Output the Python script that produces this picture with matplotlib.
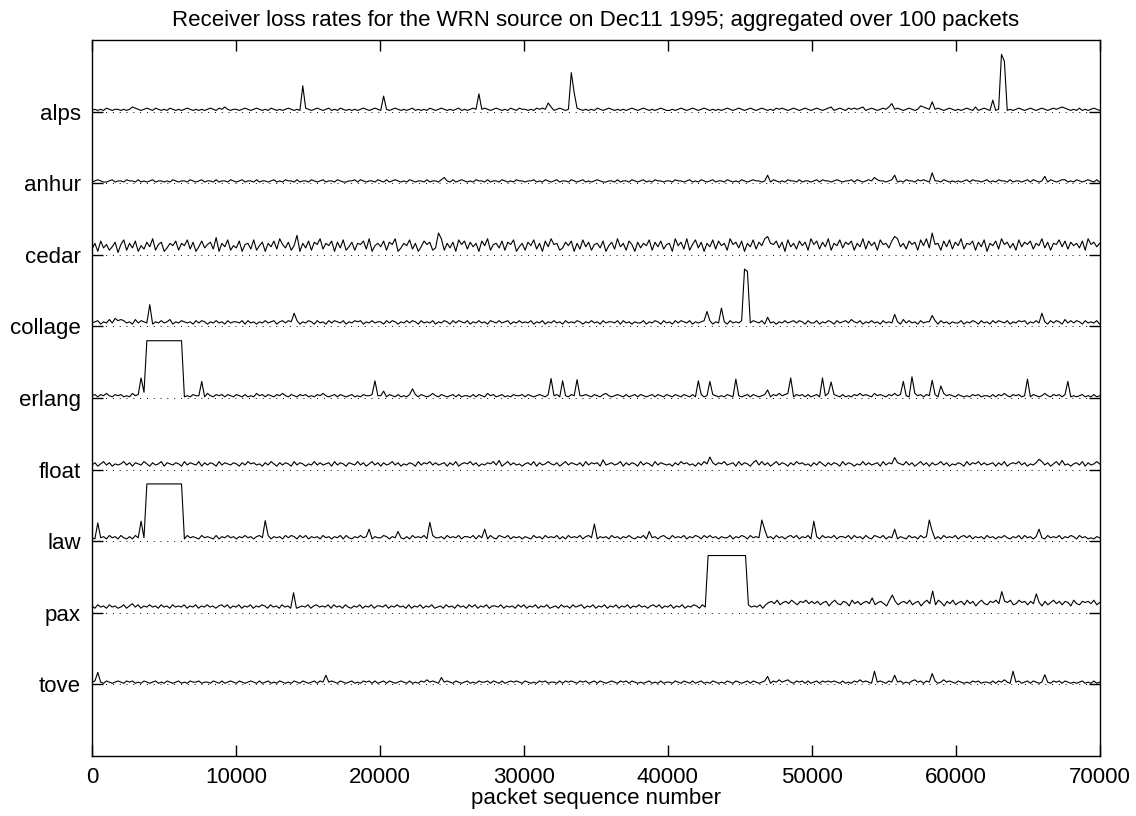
import numpy as np
import matplotlib.pyplot as plt

# receivers, top to bottom
hosts = ["alps", "anhur", "cedar", "collage", "erlang", "float", "law", "pax", "tove"]

# background loss per 200-packet bin, one hex char each (value * 2 = loss %)
alps_bg = ("12121321221212432123213212132121232121212321324212"
           "21232123212132121232121232123212312132121212321232"
           "13212321212312121321232121231212321232123212132132"
           "21213232141232121232121213212321212123212321212321"
           "12123212321232121212321232123212321213232123212321"
           "23212341232132323412321232412321232125432123212321"
           "21232141232121232121232123212321232343212131212321")
anhur_bg = ("12321123122132213121231221213212213212312213122132"
            "12312213122123121322131221321231221321122313212213"
            "21312321213212213122132213123212132213122132121322"
            "12231213212312213212312123211221312213212312132212"
            "21322123121321231221321213212322123132121322131221"
            "23132212321223132123213221233121322132321322132121"
            "21231322123121322131221231321221321233121321232131")
cedar_bg = ("5a3c6947b29d4a6c385b7e49b36a8c4a8d5b37c69b5e3a7d48"
            "6c39a5d48b3a7c5e96b48d3a6c4b9e5a8c3b6d47b4a9c5e38a"
            "7c4b9e36a8d5a37c9b468e4a6b3d9c5b7a3c8e49a6c4b9d37a"
            "4b8d5a3c7e9a46b8c3a5d7b49a6c38b5e7a4c93b6a8d4b7c59"
            "a3c8b5e49d6b3a7d5c8a4e9b6c3a7d5b8e4a9c6b3d7a5c8b4e"
            "9c5b7e4a8d6b9c4a7e5c8b4d9a6c3e7a5c9b4d8e6b9a4c7d5b"
            "8e5a9c4b7d3a8c5e9b6a4d7b9c5a8e6b4a9d7c5b8a6c4e9b7a")
collage_bg = ("34524363754534263543524353462435434253542435342534"
              "43525342435345245354352435425342535435243545243534"
              "42535424353542534352435425354352435342543534524353"
              "43524352435342534354243534253443525342433524354253"
              "42535435243453524354253435243543525342435345354253"
              "35243542534536435243534253435426353425344352534243"
              "35243542534253543524354524353442535426353542534352")
erlang_bg = ("23132421323121423253213132421323121322314213231321"
             "32131214231321324213213231213242123132123121322312"
             "24132131213231321242132123131221313214231231213223"
             "13212321312313213212232132134212321312313212313213"
             "21321321312312132121321321231321232132423421323131"
             "23132423213121324232142321324231213423132131242321"
             "32121323122131324213231231321242132313212123121312")
float_bg = ("46357463545746365475364573654653746547364653746546"
            "53647564536475364653746535474645637465365474635746"
            "36457463546537465746456364735657463546574635746453"
            "56473645754635746546374656374564573646537465374654"
            "53647564536475364657456374653684746357465364756453"
            "64753646537465354746456374658654746357463645746354"
            "65374657464563647356574635465746357484535647364575")
law_bg = ("32534253425324253435253434252434253432534325243534"
          "24353424533524342535425352434253424352532435345243"
          "35424353242534352453342534352443525342532543524342"
          "43253425343524253435245352434253424353243525342453"
          "25343524354253534243352435425343253425342453524352"
          "34253435244352534253254352434243253425343524253435"
          "24535243425342435324352534245325343524354253423243")
pax_bg = ("64756475645746857465756475647565746574657564675746"
          "57465746576475647564745657467565747564754657465746"
          "65746575647465746574564756475647574657466574656475"
          "74657465745647564756746574657465746574657564675746"
          "574657465764756475647456574675657479a8b79a8b97a9b8a"
          "8a79a69b87a96b8a79a8b79a86b9a79a8b79a69b8a7b96a8b7"
          "9a7b8a69b87a9b86a9b78b9a7a8b96a79b8a7a96b87a9a8b79")
tove_bg = ("23121321232132312132123121321231213223122132131232"
           "13212321312312132121321321231321232132123121323131"
           "23132123213121324232132321321231213223132131232321"
           "32121323122131323213231231321232132313212123121312"
           "21321321312312132121321321231321232132423421323131"
           "23132323213121324232142321324231213423132131242321"
           "32121323122131324213231231321242132313212123121312")
backgrounds = [alps_bg, anhur_bg, cedar_bg, collage_bg, erlang_bg,
               float_bg, law_bg, pax_bg, tove_bg]

# isolated loss spikes: (packet, loss %)
alps_spikes = [(14700, 45), (20200, 27), (26800, 31), (31700, 15), (33300, 68),
               (33500, 33), (55600, 14), (58400, 17), (62600, 20), (63100, 100),
               (63300, 88)]
anhur_spikes = [(24400, 10), (47000, 14), (54400, 10), (55800, 14), (58400, 18),
                (66200, 12)]
cedar_spikes = [(8700, 30), (14300, 34), (24000, 38), (40600, 28), (47000, 32),
                (55800, 32), (58400, 38)]
collage_spikes = [(2000, 12), (4000, 38), (14000, 23), (42800, 26), (43800, 32),
                  (45300, 100), (45500, 96), (47000, 16), (55700, 21),
                  (58400, 19), (65900, 23)]
erlang_spikes = [(3400, 35), (7600, 29), (19600, 30), (20300, 12), (22200, 16),
                 (31800, 34), (32600, 30), (33700, 32), (42100, 30), (42900, 29),
                 (44800, 33), (47000, 14), (48600, 35), (50800, 35), (51400, 28),
                 (56300, 29), (56900, 37), (58300, 31), (58900, 21), (65000, 33),
                 (67800, 29)]
float_spikes = [(28300, 16), (35600, 17), (42900, 22), (55700, 21), (65800, 18)]
law_spikes = [(500, 32), (3400, 35), (12000, 36), (19200, 21), (21200, 17),
              (23500, 33), (27300, 21), (35000, 30), (38800, 17), (46500, 37),
              (46700, 20), (50100, 35), (55700, 21), (58100, 37), (58400, 18),
              (65700, 21)]
pax_spikes = [(14000, 35), (54200, 26), (55700, 31), (58300, 38), (63300, 37),
              (65700, 33)]
tove_spikes = [(500, 21), (16200, 16), (24300, 12), (47000, 14), (54400, 23),
               (55800, 16), (58400, 19), (64000, 23), (66200, 17)]
spikes = [alps_spikes, anhur_spikes, cedar_spikes, collage_spikes, erlang_spikes,
          float_spikes, law_spikes, pax_spikes, tove_spikes]

# total-loss outages: host -> (first packet, last packet, loss %)
outages = {"erlang": (3900, 6300, 100), "law": (3900, 6300, 100),
           "pax": (42800, 45400, 100)}

title = "Receiver loss rates for the WRN source on Dec11 1995; aggregated over 100 packets"

fig = plt.figure(figsize=(11.36, 8.16), dpi=100)
plt.rcParams["font.family"] = ["Liberation Sans", "DejaVu Sans"]
ax = fig.add_axes([0.081, 0.0735, 0.887, 0.8775])

n_hosts = len(hosts)
for i, host in enumerate(hosts):
    offset = n_hosts - i
    loss = np.array([int(c, 16) * 2.0 for c in backgrounds[i]])
    step = 70000 / (len(loss) - 1)
    x = np.arange(len(loss)) * step
    for p, v in spikes[i]:
        loss[int(round(p / step))] = v
    if host in outages:
        a, b, v = outages[host]
        loss[int(round(a / step)):int(round(b / step)) + 1] = v
    ax.axhline(offset, color="black", lw=0.7, ls=(0, (1, 6)))
    ax.plot(x, offset + loss / 100 * 0.8, color="black", lw=0.8)

ax.set_xlim(0, 70000)
ax.set_ylim(0, 10)
ax.set_xticks(np.arange(0, 70001, 10000))
ax.set_yticks(np.arange(n_hosts, 0, -1))
ax.set_yticklabels(hosts)
ax.tick_params(axis="both", direction="in", top=True, right=True,
               length=8, width=1, labelsize=16, pad=8)
for spine in ax.spines.values():
    spine.set_linewidth(1)
ax.set_xlabel("packet sequence number", fontsize=16, labelpad=0)
ax.set_title(title, fontsize=16, pad=10)

plt.savefig("out.png", dpi=100)
